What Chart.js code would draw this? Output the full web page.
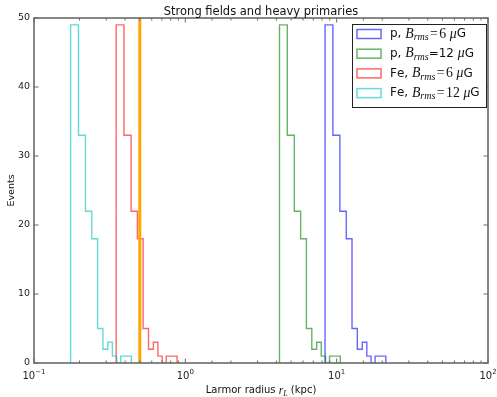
<!DOCTYPE html>
<html>
<head>
<meta charset="utf-8">
<script src="https://cdn.jsdelivr.net/npm/chart.js@4/dist/chart.umd.min.js"></script>
<style>
  html, body { margin: 0; padding: 0; background: #fff; }
  #wrap { width: 497px; height: 397px; }
</style>
</head>
<body>
<div id="wrap"><canvas id="c" width="497" height="397"></canvas></div>
<script>
// Strong fields and heavy primaries — step histograms of Larmor radius on a log axis.

const titleText = 'Strong fields and heavy primaries';
const xTitle = 'Larmor radius $r_L$ (kpc)';
const yTitle = 'Events';

const xRange = [0.1, 100];
const yRange = [0, 50];
const yStep = 10;
const cutRadius = 0.5;   // orange marker line

const seriesLabels = [
  'p, $B_{rms}=6\\,\\mu$G',
  'p, $B_{rms}$=12 $\\mu$G',
  'Fe, $B_{rms}=6\\,\\mu$G',
  'Fe, $B_{rms}=12\\,\\mu$G',
];
const seriesColors = [
  'rgba(0,0,255,0.6)',
  'rgba(0,128,0,0.6)',
  'rgba(255,0,0,0.6)',
  'rgba(0,191,191,0.6)',
];

// bin edges (kpc)
const edgesP6 = [8.38, 9.44, 10.50, 11.57, 12.63, 13.69, 14.76, 15.82, 16.88, 17.95, 19.01, 20.07, 21.13];
const edgesP12 = [4.19, 4.72, 5.25, 5.78, 6.31, 6.85, 7.38, 7.91, 8.44, 8.97, 9.50, 10.04, 10.57];
const edgesFe6 = [0.349, 0.393, 0.438, 0.482, 0.526, 0.571, 0.615, 0.659, 0.703, 0.748, 0.792, 0.836, 0.881];
const edgesFe12 = [0.1745, 0.1967, 0.2188, 0.2410, 0.2631, 0.2853, 0.3074, 0.3296, 0.3517, 0.3739, 0.3960, 0.4182, 0.4403];

// events per bin
const countsP6 = [49, 33, 22, 18, 5, 2, 3, 1, 0, 1, 1, 1];
const countsP12 = [49, 33, 22, 18, 5, 2, 3, 1, 0, 1, 1, 1];
const countsFe6 = [49, 33, 22, 18, 5, 2, 3, 1, 0, 1, 1, 1];
const countsFe12 = [49, 33, 22, 18, 5, 2, 3, 1, 0, 1, 1, 1];

const allEdges = [edgesP6, edgesP12, edgesFe6, edgesFe12];
const allCounts = [countsP6, countsP12, countsFe6, countsFe12];

// outline of a step histogram, like histtype='step'
function stepOutline(edges, counts) {
  const pts = [{ x: edges[0], y: 0 }];
  counts.forEach((c, i) => {
    pts.push({ x: edges[i], y: c });
    pts.push({ x: edges[i + 1], y: c });
  });
  pts.push({ x: edges[edges.length - 1], y: 0 });
  return pts;
}

const SANS = '"DejaVu Sans"';
const SERIF = '"Liberation Serif"';

// tiny mathtext: $...$ is math, _{..} subscript, \mu, \, thin space
function texTokens(str, size) {
  const out = [];
  const ms = size * 1.15;
  let math = false, i = 0;
  while (i < str.length) {
    const ch = str[i];
    if (ch === '$') { math = !math; i++; continue; }
    if (!math) { out.push({ t: ch, font: `${size}px ${SANS}`, dy: 0 }); i++; continue; }
    if (ch === '_') {
      let body;
      if (str[i + 1] === '{') { const j = str.indexOf('}', i); body = str.slice(i + 2, j); i = j + 1; }
      else { body = str[i + 1]; i += 2; }
      out.push({ t: body, font: `italic ${Math.round(ms * 0.7)}px ${SERIF}`, dy: size * 0.3 });
      continue;
    }
    if (ch === '\\') {
      const m = str.slice(i + 1).match(/^[a-zA-Z]+|^./)[0];
      i += 1 + m.length;
      if (m === 'mu') out.push({ t: 'μ', font: `italic ${ms}px ${SERIF}`, dy: 0 });
      else if (m === ',') out.push({ gap: size * 0.3 });
      continue;
    }
    if (ch === ' ') { i++; continue; }
    if (ch === '=') {
      out.push({ gap: size * 0.12 });
      out.push({ t: ch, font: `${ms}px ${SERIF}`, dy: 0 });
      out.push({ gap: size * 0.12 });
      i++;
      continue;
    }
    const it = /[a-zA-Z]/.test(ch) ? 'italic ' : '';
    out.push({ t: ch, font: `${it}${ms}px ${SERIF}`, dy: 0 });
    i++;
  }
  return out;
}

function drawTex(ctx, str, x, y, size, align) {
  const toks = texTokens(str, size);
  let w = 0;
  toks.forEach(tk => {
    if (tk.gap) { tk.w = tk.gap; } else { ctx.font = tk.font; tk.w = ctx.measureText(tk.t).width; }
    w += tk.w;
  });
  let cx = align === 'center' ? x - w / 2 : x;
  ctx.textAlign = 'left';
  ctx.textBaseline = 'middle';
  toks.forEach(tk => {
    if (!tk.gap) { ctx.font = tk.font; ctx.fillText(tk.t, cx, y + tk.dy); }
    cx += tk.w;
  });
}

function isDecade(v) {
  const e = Math.log10(v);
  return Math.abs(e - Math.round(e)) < 1e-6;
}

// "10" with a raised exponent, centred on the tick
function drawDecade(ctx, v, x, y) {
  const base = '10', exp = String(Math.round(Math.log10(v))).replace('-', '\u2212');
  ctx.font = `10px ${SANS}`;
  const wb = ctx.measureText(base).width;
  ctx.font = `7px ${SANS}`;
  const we = ctx.measureText(exp).width;
  let cx = x - (wb + we) / 2;
  ctx.textAlign = 'left';
  ctx.textBaseline = 'middle';
  ctx.font = `10px ${SANS}`;
  ctx.fillText(base, cx, y);
  ctx.font = `7px ${SANS}`;
  ctx.fillText(exp, cx + wb, y - 4);
}

const decor = {
  id: 'decor',
  afterDraw(chart) {
    const { ctx, chartArea: a, scales } = chart;
    const xs = scales.x, ys = scales.y;
    ctx.save();
    // frame
    ctx.strokeStyle = '#6a6a6a';
    ctx.lineWidth = 1.6;
    ctx.strokeRect(a.left, a.top, a.right - a.left, a.bottom - a.top);
    // inward ticks on all four sides
    ctx.lineWidth = 1;
    ctx.beginPath();
    xs.ticks.forEach(t => {
      const px = xs.getPixelForValue(t.value);
      const len = isDecade(t.value) ? 4.5 : 2.5;
      ctx.moveTo(px, a.bottom); ctx.lineTo(px, a.bottom - len);
      ctx.moveTo(px, a.top); ctx.lineTo(px, a.top + len);
    });
    ys.ticks.forEach(t => {
      const py = ys.getPixelForValue(t.value);
      ctx.moveTo(a.left, py); ctx.lineTo(a.left + 4.5, py);
      ctx.moveTo(a.right, py); ctx.lineTo(a.right - 4.5, py);
    });
    ctx.stroke();

    // x tick labels at decades
    ctx.fillStyle = '#222';
    xs.ticks.forEach(t => {
      if (isDecade(t.value)) drawDecade(ctx, t.value, xs.getPixelForValue(t.value), a.bottom + 13);
    });

    // titles
    ctx.fillStyle = '#111';
    ctx.font = `11.5px ${SANS}`;
    ctx.textAlign = 'center';
    ctx.textBaseline = 'alphabetic';
    ctx.fillText(titleText, (a.left + a.right) / 2, 15);
    drawTex(ctx, xTitle, (a.left + a.right) / 2, 390.5, 10, 'center');
    ctx.save();
    ctx.translate(12, (a.top + a.bottom) / 2);
    ctx.rotate(-Math.PI / 2);
    ctx.font = `9.5px ${SANS}`;
    ctx.textAlign = 'center';
    ctx.textBaseline = 'middle';
    ctx.fillText(yTitle, 0, 0);
    ctx.restore();

    // legend
    const bw = 134, bh = 83;
    const bx = a.right - 2 - bw, by = a.top + 6;
    ctx.fillStyle = '#fff';
    ctx.fillRect(bx, by, bw, bh);
    ctx.strokeStyle = '#222';
    ctx.lineWidth = 1;
    ctx.strokeRect(bx + 0.5, by + 0.5, bw, bh);
    seriesLabels.forEach((lab, i) => {
      const cy = by + 10 + i * 19.7;
      ctx.strokeStyle = seriesColors[i];
      ctx.lineWidth = 1.5;
      ctx.strokeRect(bx + 5, cy - 4.5, 24, 9);
      ctx.fillStyle = '#111';
      drawTex(ctx, lab, bx + 38, cy, 12, 'left');
    });
    ctx.restore();
  },
};

const datasets = allEdges.map((edges, i) => ({
  label: seriesLabels[i],
  data: stepOutline(edges, allCounts[i]),
  borderColor: seriesColors[i],
  borderWidth: 1.4,
  order: 4 - i,
}));
datasets.push({
  label: 'cut',
  data: [{ x: cutRadius, y: yRange[0] }, { x: cutRadius, y: yRange[1] }],
  borderColor: '#ffa500',
  borderWidth: 3,
  order: -1,
});

new Chart(document.getElementById('c'), {
  type: 'line',
  data: { datasets },
  options: {
    responsive: false,
    animation: false,
    layout: { padding: { top: 18, right: 9, left: 0, bottom: 0 } },
    elements: { point: { radius: 0 }, line: { tension: 0, fill: false } },
    plugins: { legend: { display: false }, tooltip: { enabled: false } },
    scales: {
      x: {
        type: 'logarithmic',
        min: xRange[0], max: xRange[1],
        grid: { display: false, drawTicks: false },
        border: { display: false },
        ticks: { display: false, autoSkip: false },
        afterFit: s => { s.height = 34; },
      },
      y: {
        min: yRange[0], max: yRange[1],
        grid: { display: false, drawTicks: false },
        border: { display: false },
        ticks: {
          stepSize: yStep, padding: 4,
          color: '#222', font: { family: 'DejaVu Sans', size: 9.5 },
        },
        afterFit: s => { s.width = 34; },
      },
    },
  },
  plugins: [decor],
});
</script>
</body>
</html>
